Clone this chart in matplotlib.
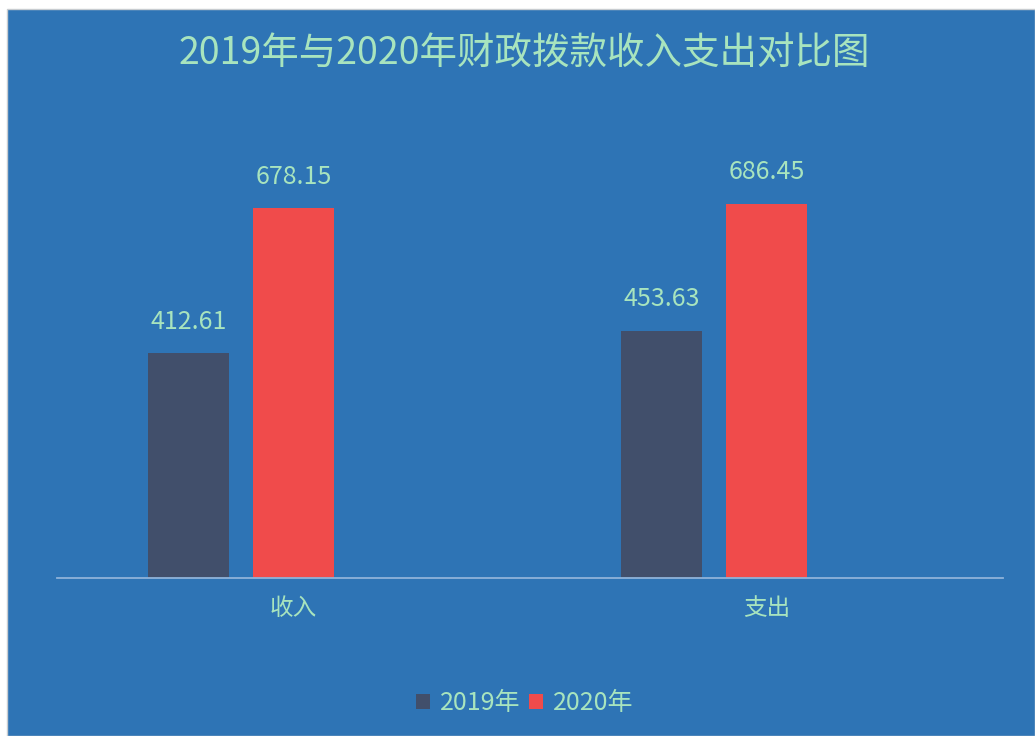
import numpy as np
import matplotlib
matplotlib.use("Agg")
import matplotlib.pyplot as plt
from matplotlib.patches import Rectangle

plt.rcParams['font.family'] = ['Noto Sans CJK SC', 'DejaVu Sans']

# 数据
categories = ['收入', '支出']
series_names = ['2019年', '2020年']
values_2019 = [412.61, 453.63]
values_2020 = [678.15, 686.45]

bg_blue = '#2E74B5'
text_green = '#A8E4BE'
c2019 = '#414F6B'
c2020 = '#F04B4B'

W, H = 1035, 736
fig = plt.figure(figsize=(W / 100, H / 100), dpi=100)
fig.patch.set_facecolor('white')
# 蓝色背景区域（左上留白边）
fig.patches.append(Rectangle((7 / W, 0), 1 - 7 / W, 1 - 9 / H, transform=fig.transFigure,
                             facecolor=bg_blue, edgecolor='#C8CCD0', linewidth=1, zorder=-5))

ax = fig.add_axes([57 / W, 1 - 578 / H, (1003 - 57) / W, (578 - 141.6) / H])
ax.set_facecolor('none')
ax.set_zorder(2)

x = np.arange(len(categories))
bw = 0.173
gap = 0.049
# 原图像是三组柱的布局，第三组为空，所以2020年柱位于类别中心
b1 = ax.bar(x - (bw + gap), values_2019, bw, color=c2019, label=series_names[0], zorder=2)
b2 = ax.bar(x, values_2020, bw, color=c2020, label=series_names[1], zorder=2)

for bars in (b1, b2):
    for r in bars:
        ax.annotate(f'{r.get_height():.2f}', (r.get_x() + r.get_width() / 2, r.get_height()),
                    xytext=(0, 13), textcoords='offset points', ha='center', va='bottom',
                    fontsize=18, color=text_green)

ax.set_xlim(-0.5, 1.5)
ax.set_ylim(0, 800)
ax.set_xticks(x)
ax.set_xticklabels(categories, fontsize=17, color=text_green)
ax.tick_params(axis='x', length=0, pad=14)
ax.set_yticks([])
for s in ['top', 'right', 'left']:
    ax.spines[s].set_visible(False)
ax.spines['bottom'].set_color('#8FB3D9')
ax.spines['bottom'].set_linewidth(1.3)

fig.text(524 / W, 1 - 54 / H, '2019年与2020年财政拨款收入支出对比图', ha='center', va='center',
         fontsize=27, color=text_green)

leg = fig.legend(loc='center', bbox_to_anchor=(525 / W, 1 - 703 / H), ncol=2, frameon=False,
                 fontsize=18, labelcolor=text_green, handlelength=0.55, handleheight=0.55,
                 handletextpad=0.4, columnspacing=0.35)

fig.savefig('out.png', dpi=100, facecolor=fig.get_facecolor())
